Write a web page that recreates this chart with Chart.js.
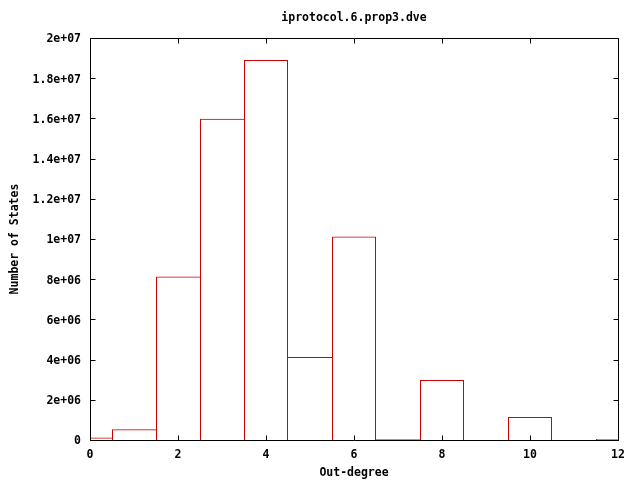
<!DOCTYPE html>
<html>
<head>
<meta charset="utf-8">
<script src="https://cdn.jsdelivr.net/npm/chart.js@4/dist/chart.umd.min.js"></script>
<style>
html,body{margin:0;padding:0;background:#fff;}
#wrap{width:640px;height:480px;}
</style>
</head>
<body>
<div id="wrap"><canvas id="c" width="640" height="480"></canvas></div>
<script>
const chartTitle = "iprotocol.6.prop3.dve";
const xTitle = "Out-degree";
const yTitle = "Number of States";
const outDegree = [0, 1, 2, 3, 4, 5, 6, 7, 8, 9, 10, 11, 12];
const numStates = [120000, 530000, 8130000, 15980000, 18900000, 4130000, 10130000, 50000, 2990000, 0, 1140000, 0, 50000];
const xTicks = [0, 2, 4, 6, 8, 10, 12];
const yTicks = [0, 2e6, 4e6, 6e6, 8e6, 1e7, 1.2e7, 1.4e7, 1.6e7, 1.8e7, 2e7];

const FONT = "'DejaVu Sans Mono', 'Liberation Mono', monospace";

function gnuFmt(v) {
  if (v === 0) return "0";
  let e = Math.floor(Math.log10(Math.abs(v)) + 1e-9);
  let m = v / Math.pow(10, e);
  m = Math.round(m * 1000) / 1000;
  const es = (e < 0 ? "-" : "+") + String(Math.abs(e)).padStart(2, "0");
  return m + "e" + es;
}

// shared edges between neighbouring boxes are drawn once, by the taller box
function edgeWidths(ctx) {
  const i = ctx.dataIndex;
  const h = numStates[i];
  const prev = i > 0 ? numStates[i - 1] : -1;
  const next = i < numStates.length - 1 ? numStates[i + 1] : -1;
  return { top: 1, bottom: 0, left: h >= prev ? 1 : 0, right: h > next ? 1 : 0 };
}

const frame = {
  id: "frame",
  afterDraw(chart) {
    const ctx = chart.ctx;
    const a = chart.chartArea;
    const xs = chart.scales.x, ys = chart.scales.y;
    const L = Math.round(a.left) + 0.5, R = Math.round(a.right) + 0.5;
    const T = Math.round(a.top) + 0.5, B = Math.round(a.bottom) + 0.5;
    ctx.save();
    ctx.strokeStyle = "#000";
    ctx.lineWidth = 1;
    ctx.beginPath();
    ctx.rect(L, T, R - L, B - T);
    const tl = 5;
    xTicks.forEach(v => {
      const px = Math.round(xs.getPixelForValue(v)) + 0.5;
      ctx.moveTo(px, B); ctx.lineTo(px, B - tl);
      ctx.moveTo(px, T); ctx.lineTo(px, T + tl);
    });
    yTicks.forEach(v => {
      const py = Math.round(ys.getPixelForValue(v)) + 0.5;
      ctx.moveTo(L, py); ctx.lineTo(L + tl, py);
      ctx.moveTo(R, py); ctx.lineTo(R - tl, py);
    });
    ctx.stroke();
    ctx.fillStyle = "#000";
    ctx.font = "bold 11.5px " + FONT;
    ctx.textAlign = "center";
    ctx.textBaseline = "middle";
    ctx.fillText(chartTitle, (a.left + a.right) / 2, 18);
    ctx.restore();
  }
};

new Chart(document.getElementById("c"), {
  type: "bar",
  data: {
    datasets: [{
      data: outDegree.map((x, i) => ({ x: x, y: numStates[i] })),
      backgroundColor: "rgba(0,0,0,0)",
      borderColor: "#d00000",
      borderWidth: edgeWidths,
      borderSkipped: false,
      inflateAmount: 0,
      barPercentage: 1,
      categoryPercentage: 1
    }]
  },
  options: {
    responsive: false,
    animation: false,
    devicePixelRatio: 1,
    layout: { padding: { top: 38, right: 22, left: 2, bottom: 0 } },
    plugins: { legend: { display: false }, tooltip: { enabled: false }, title: { display: false } },
    scales: {
      x: {
        type: "linear",
        min: 0, max: 12,
        offset: false,
        grid: { display: false, drawTicks: false },
        border: { display: false },
        afterBuildTicks(s) { s.ticks = xTicks.map(v => ({ value: v })); },
        afterFit(s) { s.height = 40; },
        ticks: {
          color: "#000",
          font: { family: FONT, size: 11.5, weight: "bold" },
          padding: 8,
          maxRotation: 0,
          autoSkip: false
        },
        title: {
          display: true, text: xTitle, color: "#000",
          font: { family: FONT, size: 11.5, weight: "bold" },
          padding: { top: 4, bottom: 0 }
        }
      },
      y: {
        min: 0, max: 2e7,
        grid: { display: false, drawTicks: false },
        border: { display: false },
        afterBuildTicks(s) { s.ticks = yTicks.map(v => ({ value: v })); },
        afterFit(s) { s.width = 88; },
        ticks: {
          color: "#000",
          font: { family: FONT, size: 11.5, weight: "bold" },
          padding: 9,
          labelOffset: 1.5,
          autoSkip: false,
          callback: v => gnuFmt(v)
        },
        title: {
          display: true, text: yTitle, color: "#000",
          font: { family: FONT, size: 11.5, weight: "bold" },
          padding: { top: 6, bottom: 0 }
        }
      }
    }
  },
  plugins: [frame]
});
</script>
</body>
</html>
